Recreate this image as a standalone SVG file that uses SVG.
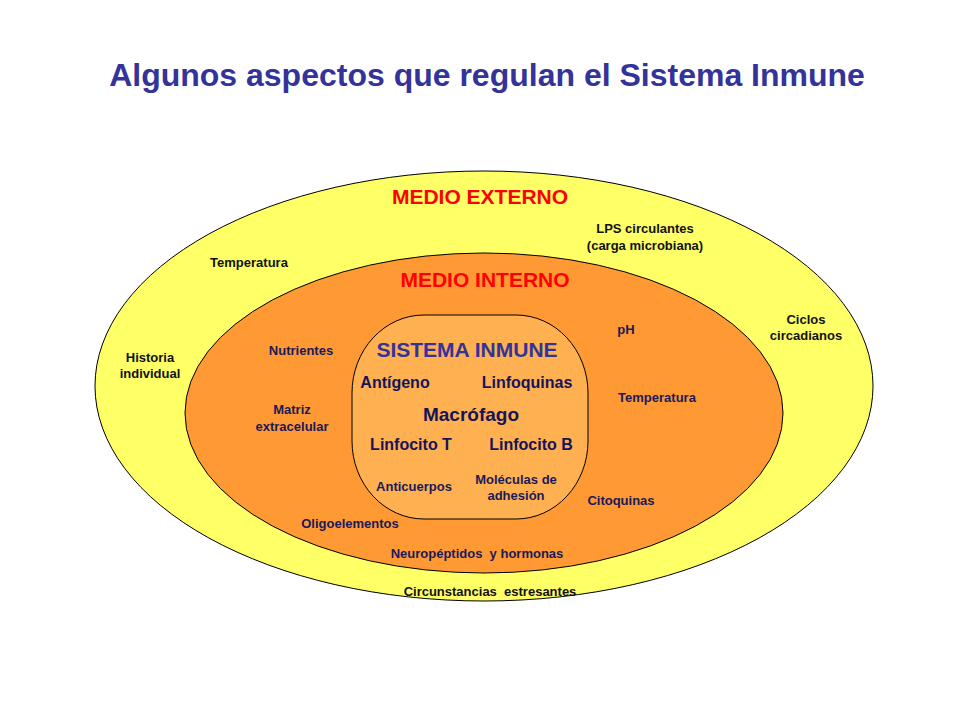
<svg xmlns="http://www.w3.org/2000/svg" width="960" height="720" viewBox="0 0 960 720">
<style>
text{font-family:"Liberation Sans",Arial,sans-serif;font-weight:bold;text-anchor:middle}
.t{font-size:32px;fill:#333399}
.m{font-size:21px;fill:#ff0000}
.o{font-size:13px;fill:#111111}
.i{font-size:13px;fill:#1a1a5a}
.s{font-size:21px;fill:#333399}
.b{font-size:16px;fill:#14145a}
.c{font-size:19px;fill:#14145a}
</style>
<rect width="960" height="720" fill="#ffffff"/>
<text class="t" x="487" y="86">Algunos aspectos que regulan el Sistema Inmune</text>
<g id="medio-externo">
<ellipse cx="484" cy="386" rx="389" ry="215" fill="#ffff66" stroke="#000" stroke-width="1"/>
<text class="m" x="480" y="204">MEDIO EXTERNO</text>
<text class="o" x="645" y="233">LPS circulantes</text>
<text class="o" x="645" y="250">(carga microbiana)</text>
<text class="o" x="249" y="267">Temperatura</text>
<text class="o" x="150" y="362">Historia</text>
<text class="o" x="150" y="378">individual</text>
<text class="o" x="806" y="324">Ciclos</text>
<text class="o" x="806" y="340">circadianos</text>
<text class="o" x="490" y="596" xml:space="preserve">Circunstancias  estresantes</text>
</g>
<g id="medio-interno">
<ellipse cx="484" cy="413" rx="299" ry="160" fill="#ff9933" stroke="#000" stroke-width="1"/>
<text class="m" x="485" y="287">MEDIO INTERNO</text>
<text class="i" x="301" y="355">Nutrientes</text>
<text class="i" x="292" y="414">Matriz</text>
<text class="i" x="292" y="431">extracelular</text>
<text class="i" x="626" y="334">pH</text>
<text class="i" x="657" y="402">Temperatura</text>
<text class="i" x="621" y="505">Citoquinas</text>
<text class="i" x="350" y="528">Oligoelementos</text>
<text class="i" x="477" y="558" xml:space="preserve">Neuropéptidos  y hormonas</text>
</g>
<g id="sistema-inmune">
<rect x="352" y="315" width="236" height="204" rx="72" ry="78" fill="#ffb050" stroke="#000" stroke-width="1"/>
<text class="s" x="467" y="357">SISTEMA INMUNE</text>
<text class="b" x="395" y="388">Antígeno</text>
<text class="b" x="527" y="388">Linfoquinas</text>
<text class="c" x="471" y="421">Macrófago</text>
<text class="b" x="411" y="450">Linfocito T</text>
<text class="b" x="531" y="450">Linfocito B</text>
<text class="i" x="414" y="491">Anticuerpos</text>
<text class="i" x="516" y="484">Moléculas de</text>
<text class="i" x="516" y="500">adhesión</text>
</g>
<g id="connectors"/>
</svg>
